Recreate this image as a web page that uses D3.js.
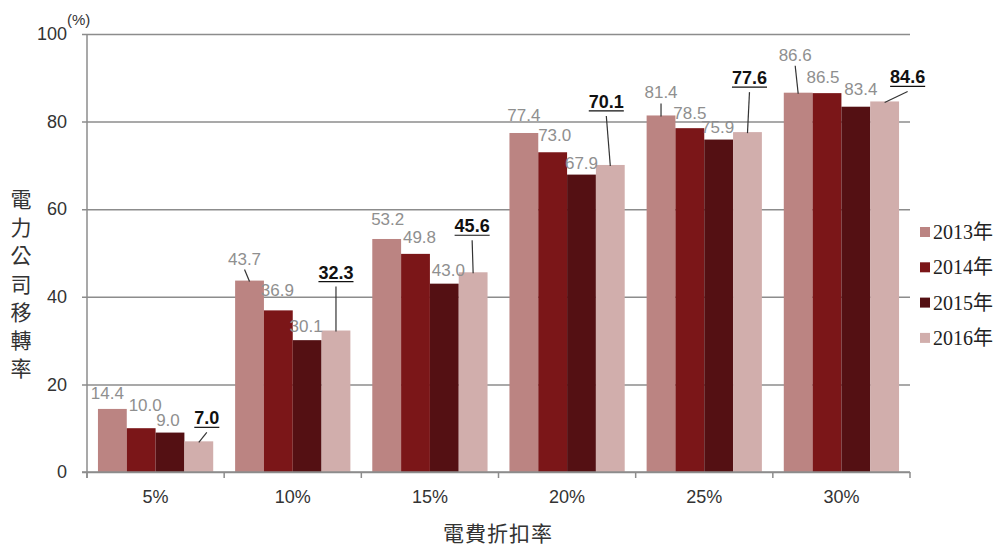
<!DOCTYPE html>
<html>
<head>
<meta charset="utf-8">
<script src="https://cdn.jsdelivr.net/npm/d3@7"></script>
<style>
  body { margin: 0; background: #fff; }
  text { font-family: "Liberation Sans Narrow", "Liberation Sans", Arial, sans-serif; }
</style>
</head>
<body>
<div id="vis"></div>
<script>
var categories = ['5%', '10%', '15%', '20%', '25%', '30%'];
var years      = ['2013年', '2014年', '2015年', '2016年'];
var values2013 = [14.4, 43.7, 53.2, 77.4, 81.4, 86.6];
var values2014 = [10.0, 36.9, 49.8, 73.0, 78.5, 86.5];
var values2015 = [9.0, 30.1, 43.0, 67.9, 75.9, 83.4];
var values2016 = [7.0, 32.3, 45.6, 70.1, 77.6, 84.6];
var yTicks     = [0, 20, 40, 60, 80, 100];

var colors = ['#bb8482', '#7b1618', '#541013', '#d1aeac'];

// label nudges [dx, dy, leader] relative to bar centre / bar top
var nudge = [
  [[-5, -10, 0], [-5, -16, 1], [1, -14, 0], [0, -12, 0], [0, -17, 1], [-3, -32, 1]],
  [[4, -17, 0], [-1, -14, 0], [4, -11, 0], [2, -11, 0], [0, -9, 0], [-4, -10, 0]],
  [[-2, -7, 0], [-1, -8, 0], [4, -8, 0], [0, -6, 0], [-1, -7, 0], [5, -12, 0]],
  [[8, -17, 1], [0, -52, 1], [-1, -40, 1], [-4, -57, 1], [2, -48, 1], [23, -18, 1]]
];

var series = [values2013, values2014, values2015, values2016];

var width = 996, height = 546;
var margin = {left: 87, right: 910, top: 34, bottom: 472};

var svg = d3.select('#vis').append('svg')
  .attr('width', width)
  .attr('height', height);

var x = d3.scaleBand().domain(categories).range([margin.left, margin.right]).padding(0);
var x1 = d3.scaleBand().domain(years).range([0, x.bandwidth()]).paddingInner(0).paddingOuter(0.38);
var y = d3.scaleLinear().domain([0, 100]).range([margin.bottom, margin.top]);

// y axis + grid
var yAxis = d3.axisLeft(y).tickValues(yTicks).tickSizeInner(-(margin.right - margin.left)).tickPadding(20);
var yg = svg.append('g').attr('transform', 'translate(' + margin.left + ',0)').call(yAxis);
yg.select('.domain').remove();
yg.selectAll('.tick line').attr('x1', -5).attr('stroke', '#8c8c8c').attr('stroke-width', 1.5);
yg.selectAll('.tick text').attr('font-size', 18).attr('fill', '#333');

svg.append('text')
  .attr('x', 67).attr('y', 25)
  .attr('font-size', 15).attr('fill', '#333')
  .text('(%)');

// bars
categories.forEach(function(c, i) {
  series.forEach(function(vals, s) {
    svg.append('rect')
      .attr('x', x(c) + x1(years[s]))
      .attr('y', y(vals[i]))
      .attr('width', x1.bandwidth())
      .attr('height', y(0) - y(vals[i]))
      .attr('fill', colors[s]);
  });
});

// axis lines
svg.append('line').attr('x1', margin.left).attr('x2', margin.left)
  .attr('y1', margin.top).attr('y2', margin.bottom + 6)
  .attr('stroke', '#8c8c8c').attr('stroke-width', 1.5);
svg.append('line').attr('x1', margin.left - 5).attr('x2', margin.right)
  .attr('y1', margin.bottom).attr('y2', margin.bottom)
  .attr('stroke', '#8c8c8c').attr('stroke-width', 1.5);

d3.range(categories.length + 1).forEach(function(k) {
  var xx = margin.left + k * x.step();
  svg.append('line').attr('x1', xx).attr('x2', xx)
    .attr('y1', margin.bottom).attr('y2', margin.bottom + 6)
    .attr('stroke', '#8c8c8c').attr('stroke-width', 1.5);
});

var xAxis = d3.axisBottom(x).tickSize(0).tickPadding(18);
var xg = svg.append('g').attr('transform', 'translate(0,' + margin.bottom + ')').call(xAxis);
xg.select('.domain').remove();
xg.selectAll('.tick text').attr('font-size', 18).attr('fill', '#333');

// value labels
categories.forEach(function(c, i) {
  series.forEach(function(vals, s) {
    var cx = x(c) + x1(years[s]) + x1.bandwidth() / 2;
    var ty = y(vals[i]);
    var n = nudge[s][i];
    var lx = cx + n[0], ly = ty + n[1];
    var bold = s === 3;
    var t = svg.append('text')
      .attr('x', lx).attr('y', ly)
      .attr('text-anchor', 'middle')
      .attr('font-size', bold ? 18 : 17)
      .attr('font-weight', bold ? 'bold' : 'normal')
      .attr('fill', bold ? '#111' : '#8f8f8f')
      .text(vals[i].toFixed(1));
    if (bold) {
      var w = t.node().getComputedTextLength();
      svg.append('line')
        .attr('x1', lx - w / 2).attr('x2', lx + w / 2)
        .attr('y1', ly + 3).attr('y2', ly + 3)
        .attr('stroke', '#111').attr('stroke-width', 1.2);
    }
    if (n[2]) {
      svg.append('line')
        .attr('x1', lx).attr('y1', ly + (bold ? 8 : 5))
        .attr('x2', cx).attr('y2', ty + 1)
        .attr('stroke', '#333').attr('stroke-width', 1.2);
    }
  });
});

// legend
years.forEach(function(yr, s) {
  var ly = 232 + s * 35.3;
  svg.append('rect')
    .attr('x', 920).attr('y', ly - 5).attr('width', 10).attr('height', 10)
    .attr('fill', colors[s]);
  svg.append('text')
    .attr('x', 933).attr('y', ly)
    .attr('dominant-baseline', 'central')
    .attr('font-size', 20)
    .style('font-family', '"Liberation Serif", "Noto Sans CJK TC", serif')
    .attr('fill', '#222')
    .text(yr);
});

// axis titles
var yTitle = '電力公司移轉率'.split('');
yTitle.forEach(function(ch, k) {
  svg.append('text')
    .attr('x', 21).attr('y', 198 + k * 28.2)
    .attr('text-anchor', 'middle')
    .attr('dominant-baseline', 'central')
    .attr('font-size', 21)
    .style('font-family', '"Noto Sans CJK TC", sans-serif')
    .attr('fill', '#333')
    .text(ch);
});

svg.append('text')
  .attr('x', 498).attr('y', 532)
  .attr('text-anchor', 'middle')
  .attr('dominant-baseline', 'central')
  .attr('font-size', 21)
  .style('font-family', '"Noto Sans CJK TC", sans-serif')
  .style('letter-spacing', '1px')
  .attr('fill', '#333')
  .text('電費折扣率');
</script>
</body>
</html>
